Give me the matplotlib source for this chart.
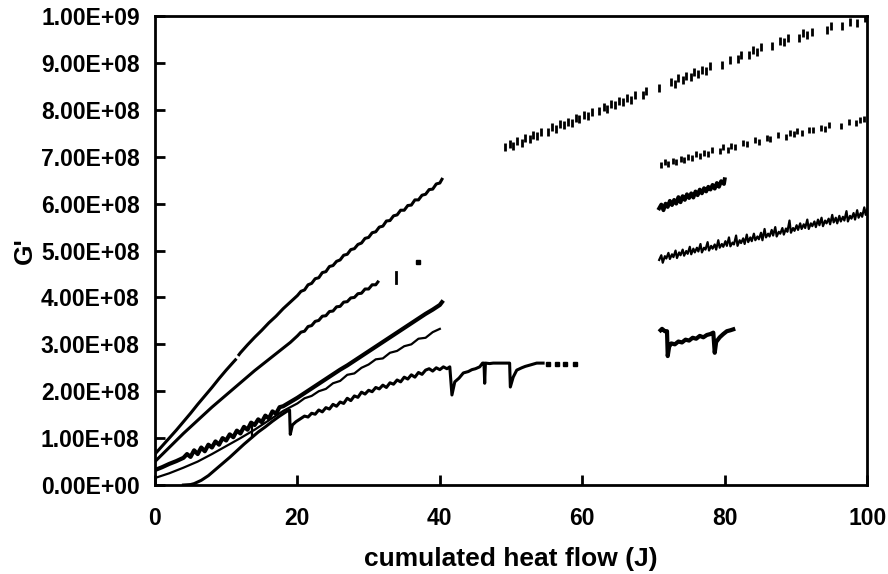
import matplotlib
matplotlib.use("Agg")
import matplotlib.pyplot as plt

plt.rcParams['font.family'] = ['Liberation Sans', 'DejaVu Sans']
plt.rcParams['font.weight'] = 'bold'

# values in units of 1e8 (G'), x in J
a1_x = [0, 1, 2, 3, 4, 5, 6, 7, 8, 9, 10, 11, 11.3]
a1_y = [0.66, 0.83, 1.0, 1.17, 1.35, 1.53, 1.72, 1.9, 2.08, 2.27, 2.45, 2.62, 2.67]
a2_x = [11.8, 12, 13, 14, 15, 16, 17, 18, 19, 20, 20.5, 21, 21.5, 22, 22.5, 23, 23.5, 24, 24.5,
        25, 25.5, 26, 26.5, 27, 27.5, 28, 28.5, 29, 29.5, 30, 30.5, 31, 31.5, 32, 32.5, 33,
        33.5, 34, 34.5, 35, 35.5, 36, 36.5, 37, 37.5, 38, 38.5, 39, 39.5, 40, 40.3]
a2_y = [2.78, 2.82, 2.99, 3.15, 3.3, 3.46, 3.6, 3.76, 3.9, 4.04, 4.13, 4.16, 4.27, 4.30, 4.40,
        4.42, 4.53, 4.55, 4.66, 4.68, 4.77, 4.80, 4.90, 4.92, 5.02, 5.04, 5.13, 5.16, 5.26,
        5.28, 5.38, 5.40, 5.50, 5.52, 5.63, 5.64, 5.74, 5.76, 5.86, 5.86, 5.96, 5.97, 6.08,
        6.08, 6.18, 6.20, 6.30, 6.31, 6.42, 6.44, 6.52]

b_x = [0, 1, 2, 3, 4, 5, 6, 7, 8, 9, 10, 11, 12, 13, 14, 15, 16, 17, 18, 19, 20, 20.5, 21,
       21.5, 22, 22.5, 23, 23.5, 24, 24.5, 25, 25.5, 26, 26.5, 27, 27.5, 28, 28.5, 29, 29.5,
       30, 30.5, 31, 31.3]
b_y = [0.50, 0.65, 0.80, 0.95, 1.10, 1.24, 1.38, 1.52, 1.66, 1.79, 1.92, 2.05, 2.18, 2.31,
       2.44, 2.56, 2.68, 2.80, 2.92, 3.04, 3.18, 3.26, 3.28, 3.38, 3.40, 3.49, 3.51, 3.60,
       3.61, 3.70, 3.71, 3.80, 3.81, 3.90, 3.91, 3.99, 4.00, 4.08, 4.09, 4.18, 4.18, 4.27,
       4.27, 4.33]
b_dash_x = [33.8, 33.8]
b_dash_y = [4.30, 4.55]
b_dot_x = [37.0]
b_dot_y = [4.75]

c_x = [0, 1, 2, 3, 4, 4.5, 5, 5.5, 6, 6.5, 7, 7.5, 8, 8.5, 9, 9.5, 10, 10.5, 11, 11.5, 12,
       12.5, 13, 13.5, 14, 14.5, 15, 15.5, 16, 16.5, 17, 17.5, 18, 19, 20, 21, 22, 23, 24,
       25, 26, 27, 28, 29, 30, 31, 32, 33, 34, 35, 36, 37, 38, 39, 40, 40.3]
c_y = [0.32, 0.38, 0.45, 0.51, 0.58, 0.66, 0.60, 0.74, 0.66, 0.80, 0.72, 0.86, 0.80, 0.93,
       0.86, 1.00, 0.95, 1.08, 1.02, 1.16, 1.10, 1.24, 1.18, 1.33, 1.28, 1.40, 1.34, 1.48,
       1.42, 1.57, 1.52, 1.66, 1.68, 1.77, 1.86, 1.96, 2.06, 2.16, 2.26, 2.36, 2.46, 2.55,
       2.65, 2.75, 2.85, 2.95, 3.05, 3.15, 3.25, 3.35, 3.45, 3.55, 3.65, 3.74, 3.84, 3.90]

d_x = [0, 2, 4, 6, 8, 10, 12, 14, 16, 18, 20, 21, 22, 23, 24, 25, 26, 27, 28, 29, 30, 31,
       32, 33, 34, 35, 36, 37, 38, 39, 40]
d_y = [0.15, 0.25, 0.37, 0.50, 0.66, 0.83, 1.00, 1.18, 1.38, 1.58, 1.74, 1.85, 1.90, 2.00,
       2.05, 2.17, 2.22, 2.35, 2.38, 2.50, 2.57, 2.68, 2.70, 2.82, 2.86, 2.96, 3.00, 3.12,
       3.14, 3.26, 3.33]
d_tick_x = [13.6, 13.6]
d_tick_y = [1.32, 1.02]

e_x = [4.0, 5.0, 5.5, 6.5, 7.5, 8.5, 9.5, 10.5, 11.5, 12.5, 13.5, 14.5, 15.5, 16.5, 17.5,
       18.5, 18.9, 19.0, 19.3, 19.8, 20.3, 21, 21.5, 22, 22.5, 23, 23.5, 24, 24.5, 25, 25.5,
       26, 26.5, 27, 27.5, 28, 28.5, 29, 29.5, 30, 30.5, 31, 31.5, 32, 32.5, 33, 33.5, 34,
       34.5, 35, 35.5, 36, 36.5, 37, 37.5, 38, 38.5, 39, 39.5, 40, 40.5, 41, 41.4, 41.7, 42.1,
       42.7, 43.3, 44.0, 44.5, 45.0, 45.6, 46.0, 46.2, 46.3, 46.4, 47.0, 47.5, 48.0, 48.7,
       49.3, 49.8, 49.9, 50.3, 50.8, 51.5, 52.0, 52.7, 53.6, 54.5]
e_y = [0.0, 0.01, 0.03, 0.10, 0.20, 0.33, 0.46, 0.59, 0.73, 0.87, 1.00, 1.13, 1.24, 1.36,
       1.47, 1.57, 1.60, 1.08, 1.28, 1.35, 1.40, 1.47, 1.45, 1.53, 1.51, 1.60, 1.56, 1.65,
       1.62, 1.72, 1.68, 1.77, 1.74, 1.85, 1.80, 1.90, 1.87, 1.98, 1.94, 2.02, 1.99, 2.08,
       2.05, 2.13, 2.08, 2.18, 2.15, 2.24, 2.20, 2.30, 2.26, 2.35, 2.30, 2.40, 2.36, 2.45,
       2.48, 2.43, 2.50, 2.46, 2.52, 2.48, 2.52, 1.92, 2.20, 2.28, 2.39, 2.42, 2.46, 2.48,
       2.52, 2.60, 2.60, 2.17, 2.60, 2.59, 2.60, 2.60, 2.60, 2.60, 2.60, 2.09, 2.30, 2.45,
       2.50, 2.53, 2.56, 2.60, 2.60]
e_dot_x = [55.2, 56.4, 57.6, 59.0]
e_dot_y = [2.58, 2.58, 2.58, 2.58]

f_x = [49.2, 49.8, 50.3, 50.9, 51.5, 52.0, 52.6, 53.1, 53.7, 54.2, 55.2, 55.8, 56.3, 56.9,
       57.4, 58.0, 58.5, 59.1, 59.6, 60.2, 60.8, 61.3, 62.4, 63.0, 63.5, 64.1, 64.6, 65.2,
       65.7, 66.3, 66.8, 67.4, 68.5, 69.0, 70.8, 72.4, 73.0, 73.5, 74.1, 74.6, 75.2, 75.7,
       76.3, 76.8, 77.4, 78.0, 79.6, 80.7, 81.8, 82.3, 83.4, 84.0, 84.5, 85.1, 86.7, 87.8,
       88.3, 88.9, 90.5, 91.0, 91.6, 92.2, 94.3, 94.9, 96.5, 97.6, 98.6, 99.7]
f_y = [7.20, 7.28, 7.24, 7.33, 7.30, 7.40, 7.38, 7.46, 7.44, 7.52, 7.53, 7.63, 7.60, 7.69,
       7.67, 7.75, 7.73, 7.82, 7.80, 7.89, 7.87, 7.96, 7.97, 8.06, 8.02, 8.12, 8.10, 8.19,
       8.16, 8.25, 8.22, 8.31, 8.32, 8.41, 8.46, 8.59, 8.56, 8.67, 8.63, 8.73, 8.70, 8.80,
       8.76, 8.86, 8.83, 8.93, 8.95, 9.07, 9.08, 9.18, 9.17, 9.28, 9.24, 9.33, 9.36, 9.47,
       9.45, 9.53, 9.54, 9.63, 9.59, 9.67, 9.70, 9.78, 9.78, 9.88, 9.85, 9.95]

g_x = [71.0, 71.6, 72.1, 72.7, 73.2, 73.8, 74.3, 74.9, 75.4, 76.0, 76.5, 77.1, 77.6, 78.2,
       79.3, 79.8, 80.4, 80.9, 81.5, 82.6, 83.1, 84.2, 84.8, 85.9, 86.4, 87.5, 88.6, 89.1,
       89.7, 90.2, 90.8, 91.9, 92.4, 93.5, 94.1, 94.6, 96.3, 97.4, 98.5, 99.0, 99.6]
g_y = [6.82, 6.88, 6.84, 6.92, 6.88, 6.96, 6.93, 7.00, 6.98, 7.05, 7.01, 7.09, 7.06, 7.14,
       7.12, 7.20, 7.15, 7.24, 7.20, 7.29, 7.28, 7.35, 7.32, 7.40, 7.38, 7.46, 7.43, 7.50,
       7.48, 7.55, 7.50, 7.58, 7.58, 7.62, 7.60, 7.68, 7.66, 7.74, 7.72, 7.78, 7.80]

h_x = [70.8, 71.1, 71.4, 71.7, 72.0, 72.3, 72.6, 72.9, 73.2, 73.5, 73.8, 74.1, 74.4, 74.7,
       75.0, 75.3, 75.6, 75.9, 76.2, 76.5, 76.8, 77.1, 77.4, 77.7, 78.0, 78.3, 78.6, 78.9,
       79.2, 79.5, 79.9, 80.0]
h_y = [5.90, 5.98, 5.86, 6.00, 5.93, 6.06, 5.97, 6.08, 6.00, 6.14, 6.03, 6.16, 6.08, 6.20,
       6.12, 6.22, 6.13, 6.26, 6.18, 6.30, 6.22, 6.33, 6.26, 6.36, 6.30, 6.40, 6.32, 6.44,
       6.36, 6.48, 6.42, 6.52]

i_x = [70.8, 71.1, 71.3, 71.6, 71.8, 72.1, 72.3, 72.6, 72.8, 73.1, 73.3, 73.6, 73.8, 74.1,
       74.3, 74.6, 74.8, 75.1, 75.3, 75.6, 75.8, 76.1, 76.3, 76.6, 76.8, 77.1, 77.3, 77.6,
       77.8, 78.1, 78.3, 78.6, 78.8, 79.1, 79.3, 79.6, 79.8, 80.1, 80.3, 80.6, 80.8, 81.1,
       81.3, 81.6, 81.8, 82.1, 82.3, 82.6, 82.8, 83.1, 83.3, 83.6, 83.8, 84.1, 84.3, 84.6,
       84.8, 85.1, 85.3, 85.6, 85.8, 86.1, 86.3, 86.6, 86.8, 87.1, 87.3, 87.6, 87.8, 88.1,
       88.3, 88.6, 88.8, 89.1, 89.3, 89.6, 89.8, 90.1, 90.3, 90.6, 90.8, 91.1, 91.3, 91.6,
       91.8, 92.1, 92.3, 92.6, 92.8, 93.1, 93.3, 93.6, 93.8, 94.1, 94.3, 94.6, 94.8, 95.1,
       95.3, 95.6, 95.8, 96.1, 96.3, 96.6, 96.8, 97.1, 97.3, 97.6, 97.8, 98.1, 98.3, 98.6,
       98.8, 99.1, 99.3, 99.6, 99.8, 100.0]
i_y = [4.80, 4.90, 4.74, 4.88, 4.83, 4.95, 4.82, 4.92, 4.86, 5.00, 4.84, 4.96, 4.90, 5.02,
       4.89, 4.99, 4.93, 5.08, 4.92, 5.04, 4.96, 5.06, 4.98, 5.14, 4.96, 5.06, 5.02, 5.18,
       5.00, 5.10, 5.04, 5.13, 5.02, 5.22, 5.06, 5.14, 5.08, 5.20, 5.10, 5.28, 5.09, 5.17,
       5.13, 5.32, 5.10, 5.22, 5.16, 5.26, 5.14, 5.34, 5.18, 5.28, 5.20, 5.36, 5.22, 5.30,
       5.24, 5.38, 5.22, 5.46, 5.28, 5.36, 5.30, 5.44, 5.32, 5.50, 5.30, 5.40, 5.36, 5.48,
       5.34, 5.47, 5.40, 5.64, 5.38, 5.48, 5.42, 5.54, 5.44, 5.58, 5.46, 5.56, 5.48, 5.66,
       5.46, 5.58, 5.52, 5.62, 5.50, 5.66, 5.54, 5.70, 5.52, 5.64, 5.58, 5.68, 5.56, 5.76,
       5.60, 5.70, 5.58, 5.74, 5.62, 5.72, 5.64, 5.84, 5.62, 5.74, 5.68, 5.80, 5.66, 5.86,
       5.70, 5.80, 5.72, 5.92, 5.76, 5.88]

j_x = [71.0, 71.2, 71.6, 71.9, 72.0, 72.2, 72.5, 73.0, 73.5, 74.0, 74.5, 75.0, 75.5, 76.0,
       76.5, 77.0, 77.5, 78.0, 78.4, 78.6, 78.8, 79.3, 79.8, 80.3, 80.8, 81.2]
j_y = [3.30, 3.33, 3.28, 3.28, 2.75, 2.95, 3.02, 3.00, 3.06, 3.04, 3.10, 3.08, 3.14, 3.12,
       3.18, 3.15, 3.20, 3.22, 3.25, 2.82, 3.05, 3.15, 3.22, 3.28, 3.30, 3.32]

y_ticks = [0, 1, 2, 3, 4, 5, 6, 7, 8, 9, 10]
y_tick_labels = ["0.00E+00", "1.00E+08", "2.00E+08", "3.00E+08", "4.00E+08", "5.00E+08",
                 "6.00E+08", "7.00E+08", "8.00E+08", "9.00E+08", "1.00E+09"]
x_ticks = [0, 20, 40, 60, 80, 100]


def scale(vals):
    return [v * 1e8 for v in vals]


fig = plt.figure(figsize=(8.88, 5.74), dpi=100)
ax = fig.add_axes([0.1745, 0.155, 0.802, 0.817])

k = dict(color='black', solid_joinstyle='round')
ax.plot(a1_x, scale(a1_y), lw=2.2, **k)
ax.plot(a2_x, scale(a2_y), lw=2.2, **k)
ax.plot(b_x, scale(b_y), lw=2.2, **k)
ax.plot(b_dash_x, scale(b_dash_y), lw=2.0, **k)
ax.plot(b_dot_x, scale(b_dot_y), 's', ms=2.5, color='black')
ax.plot(c_x, scale(c_y), lw=3.0, **k)
ax.plot(d_x, scale(d_y), lw=1.6, **k)
ax.plot(d_tick_x, scale(d_tick_y), lw=1.6, **k)
ax.plot(e_x, scale(e_y), lw=2.2, **k)
ax.plot(e_dot_x, scale(e_dot_y), 's', ms=2.2, color='black')
ax.plot(f_x, scale(f_y), '|', ms=6, mew=2, color='black')
ax.plot(g_x, scale(g_y), '|', ms=5, mew=2, color='black')
ax.plot(h_x, scale(h_y), lw=2.8, **k)
ax.plot(i_x, scale(i_y), lw=1.6, **k)
ax.plot(j_x, scale(j_y), lw=3.0, **k)

ax.set_xlim(0, 100)
ax.set_ylim(0, 1e9)
ax.set_xticks(x_ticks)
ax.set_yticks(scale(y_ticks))
ax.set_yticklabels(y_tick_labels)
ax.tick_params(direction='in', length=7, width=2, labelsize=16.5, top=False, right=False)
ax.tick_params(axis='y', pad=11)
ax.tick_params(axis='x', pad=16)
for s in ax.spines.values():
    s.set_linewidth(2)

ax.set_xlabel("cumulated heat flow (J)", fontsize=19, fontweight='bold', labelpad=12)
ax.set_ylabel("G'", fontsize=19, fontweight='bold', labelpad=3)

fig.savefig("out.png", dpi=100)
